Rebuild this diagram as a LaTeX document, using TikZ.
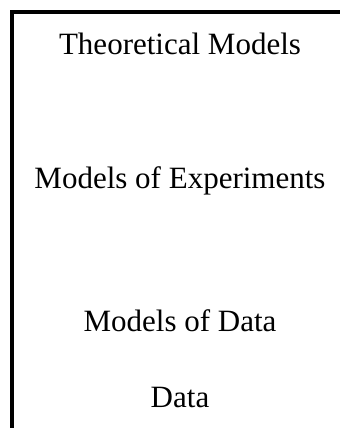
\documentclass[tikz,border=0pt]{standalone}
\usepackage{fontspec}
\setmainfont{Liberation Serif}
\usepackage{tikz}
\usetikzlibrary{positioning}

\begin{document}
\begin{tikzpicture}[
    x=1pt, y=1pt,
    level/.style={anchor=base, inner sep=0pt, font=\fontsize{31}{36}\selectfont},
    frame/.style={draw=black, line width=4pt, line join=miter}
]
\useasboundingbox (0,0) rectangle (340,428);
\draw[frame] (12,0) -- (12,416) -- (340,416);

\node[level] (theory) at (180,373) {Theoretical Models};
\node[level] (experiments) at (180,239) {Models of Experiments};
\node[level] (datamodels) at (180,96) {Models of Data};
\node[level] (data) at (180,20) {Data};
\end{tikzpicture}
\end{document}
